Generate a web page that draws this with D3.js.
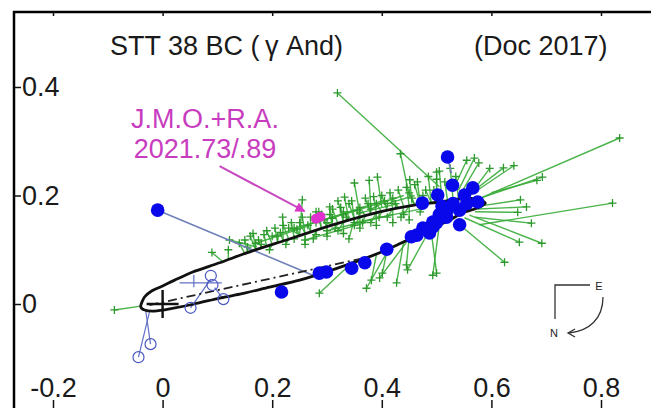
<!DOCTYPE html>
<html><head><meta charset="utf-8">
<script src="https://cdn.jsdelivr.net/npm/d3@7"></script>
<style>body{margin:0;background:#fff} svg{display:block} text{font-family:"Liberation Sans",Arial,sans-serif}</style>
</head><body><svg id="c" width="651" height="408"></svg>
<script>
const xTicks=[-0.2,0,0.2,0.4,0.6,0.8];
const xTickLabels=["-0.2","0","0.2","0.4","0.6","0.8"];
const yTicks=[0,0.2,0.4];
const yTickLabels=["0","0.2","0.4"];
const orbit=[[-0.040,-0.004],[-0.033,0.013],[-0.020,0.024],[-0.005,0.031],[0.022,0.044],[0.055,0.059],[0.104,0.076],[0.164,0.098],[0.226,0.118],[0.286,0.138],[0.341,0.155],[0.396,0.170],[0.451,0.181],[0.505,0.188],[0.546,0.194],[0.575,0.194],[0.589,0.186],[0.575,0.177],[0.547,0.168],[0.524,0.155],[0.493,0.140],[0.456,0.122],[0.409,0.100],[0.372,0.085],[0.310,0.063],[0.250,0.044],[0.195,0.031],[0.141,0.018],[0.104,0.011],[0.058,0.000],[0.013,-0.009],[-0.015,-0.013],[-0.033,-0.011]];
const nodeLine=[[-0.024,-0.002],[0.369,0.085]];
const primary=[0,0];
const greenRes=[
[0.319,0.389,0.505,0.216],[0.834,0.306,0.584,0.197],[0.821,0.186,0.578,0.146],[0.692,0.112,0.560,0.164],
[0.651,0.114,0.551,0.159],[0.624,0.077,0.542,0.146],[0.493,0.053,0.505,0.146],[0.447,0.063,0.487,0.136],
[0.396,0.048,0.451,0.122],[0.372,0.029,0.414,0.103],[0.286,0.020,0.341,0.072],[-0.088,-0.011,-0.040,-0.004],
[0.255,0.192,0.250,0.127],[0.641,0.255,0.560,0.200],[0.622,0.251,0.550,0.195],[0.653,0.192,0.575,0.180],
[0.664,0.179,0.575,0.175],[0.648,0.169,0.570,0.170],[0.673,0.149,0.570,0.160],[0.693,0.234,0.580,0.195],
[0.569,0.269,0.540,0.210],[0.434,0.277,0.450,0.200],[0.577,0.260,0.545,0.205],[0.377,0.228,0.380,0.175],
[0.332,0.197,0.340,0.155],[0.392,0.234,0.400,0.178],[0.350,0.223,0.360,0.165],[0.555,0.265,0.530,0.210],
[0.597,0.250,0.560,0.200],[0.500,0.243,0.500,0.190],[0.451,0.229,0.455,0.185],[0.305,0.179,0.310,0.146],
[0.445,0.072,0.450,0.124],[0.500,0.057,0.490,0.135],[0.401,0.057,0.410,0.100],[0.381,0.044,0.390,0.090],
[0.427,0.039,0.440,0.115],[0.683,0.228,0.600,0.205],[0.122,0.118,0.172,0.105],[0.090,0.095,0.110,0.078],
[0.219,0.160,0.220,0.116],[0.12,0.100,0.12,0.082],[0.14,0.112,0.15,0.093],[0.16,0.125,0.17,0.099],
[0.18,0.110,0.18,0.103],[0.19,0.135,0.20,0.110],[0.21,0.125,0.21,0.113],[0.22,0.145,0.23,0.120],
[0.24,0.120,0.24,0.124],[0.25,0.150,0.26,0.130],[0.27,0.160,0.27,0.133],[0.28,0.128,0.28,0.136],
[0.29,0.165,0.30,0.142],[0.30,0.150,0.31,0.145],[0.31,0.175,0.32,0.148],[0.32,0.135,0.33,0.151],
[0.33,0.170,0.34,0.154],[0.34,0.185,0.35,0.157],[0.35,0.145,0.36,0.160],[0.36,0.178,0.37,0.163],
[0.37,0.195,0.38,0.165],[0.38,0.150,0.39,0.168],[0.39,0.185,0.40,0.170],[0.40,0.200,0.41,0.172],
[0.41,0.160,0.42,0.175],[0.42,0.195,0.43,0.177],[0.43,0.210,0.44,0.179],[0.44,0.165,0.45,0.181],
[0.45,0.205,0.46,0.183],[0.46,0.220,0.47,0.184],[0.47,0.170,0.48,0.186],[0.48,0.210,0.49,0.187],
[0.50,0.230,0.50,0.188],[0.26,0.110,0.26,0.130],[0.30,0.125,0.30,0.142],[0.33,0.130,0.33,0.151],
[0.36,0.140,0.36,0.160],[0.39,0.145,0.39,0.168],[0.42,0.150,0.42,0.175],[0.45,0.155,0.45,0.181],
[0.34,0.120,0.35,0.157],[0.23,0.140,0.25,0.127],[0.28,0.170,0.29,0.140],[0.32,0.190,0.33,0.151],
[0.150,0.118,0.155,0.095],[0.155,0.105,0.16,0.097],[0.165,0.130,0.17,0.100],[0.175,0.118,0.18,0.103],
[0.185,0.128,0.19,0.106],[0.195,0.100,0.20,0.110],[0.205,0.140,0.21,0.113],[0.215,0.132,0.22,0.116],
[0.225,0.110,0.23,0.120],[0.235,0.150,0.24,0.123],[0.245,0.138,0.25,0.127],[0.255,0.160,0.26,0.130],
[0.265,0.145,0.27,0.133],[0.275,0.120,0.28,0.136],[0.285,0.170,0.29,0.139],[0.295,0.155,0.30,0.142],
[0.305,0.165,0.31,0.145],[0.315,0.140,0.32,0.148],[0.325,0.178,0.33,0.151],[0.335,0.160,0.34,0.154],
[0.345,0.190,0.35,0.157],[0.355,0.172,0.36,0.160],[0.365,0.150,0.37,0.163],[0.375,0.185,0.38,0.165],
[0.385,0.198,0.39,0.168],[0.395,0.160,0.40,0.170],[0.405,0.190,0.41,0.172],[0.415,0.205,0.42,0.175],
[0.425,0.185,0.43,0.177],[0.435,0.160,0.44,0.179],[0.445,0.215,0.45,0.181],[0.455,0.195,0.46,0.183],
[0.465,0.225,0.47,0.184],[0.475,0.200,0.48,0.186],[0.485,0.235,0.49,0.187],[0.495,0.210,0.50,0.188],
[0.505,0.245,0.51,0.189],[0.515,0.225,0.52,0.190],[0.525,0.250,0.53,0.192],[0.535,0.235,0.54,0.193],
[0.200,0.125,0.31,0.160],[0.240,0.140,0.36,0.175],[0.280,0.150,0.40,0.190],[0.330,0.165,0.44,0.200],
[0.260,0.118,0.37,0.150],[0.300,0.135,0.42,0.165],[0.350,0.150,0.47,0.175],[0.170,0.112,0.27,0.145],
[0.310,0.158,0.34,0.170],[0.380,0.175,0.41,0.190],[0.410,0.185,0.46,0.200],[0.360,0.168,0.43,0.185]
];
const blueFilled=[[0.520,0.271],[0.529,0.219],[0.502,0.201],[0.474,0.186],[0.566,0.214],[0.575,0.188],[0.551,0.201],[0.542,0.173],[0.518,0.160],[0.518,0.170],[0.493,0.142],[0.493,0.151],[0.487,0.131],[0.542,0.146],[0.464,0.127],[0.454,0.124],[0.409,0.101],[0.369,0.076],[0.345,0.066],[0.299,0.059],[0.286,0.057],[0.217,0.022],[-0.009,0.173],[0.530,0.185],[0.505,0.165],[0.475,0.140],[0.510,0.180],[0.555,0.185],[0.500,0.150]];
const blueFilledLines=[[-0.009,0.173,0.286,0.048],[0.520,0.271,0.527,0.241]];
const blueOpen=[[-0.044,-0.098],[-0.022,-0.074],[0.051,-0.007],[0.088,0.052],[0.111,0.009],[0.091,0.035]];
const blueOpenLines=[[-0.044,-0.098,-0.024,-0.015],[-0.022,-0.074,-0.031,-0.011],[0.051,-0.007,0.088,0.046],[0.031,0.039,0.108,0.039],[0.057,0.054,0.057,0.031],[0.111,0.009,0.095,0.030]];
const magentaObs=[[0.280,0.157],[0.288,0.161]];
const arrowLine=[[0.104,0.254],[0.259,0.171]];

const svg=d3.select("#c");
const x=d3.scaleLinear().domain([-0.2,0.8]).range([53,601]);
const y=d3.scaleLinear().domain([0,0.4]).range([304,87]);

const g=svg.append("g");
g.selectAll("line.gr").data(greenRes).join("line").attr("class","gr")
 .attr("x1",d=>x(d[0])).attr("y1",d=>y(d[1])).attr("x2",d=>x(d[2])).attr("y2",d=>y(d[3]))
 .attr("stroke","#38ac38").attr("stroke-width",1.4).attr("opacity",0.9);
g.selectAll("path.gp").data(greenRes).join("path").attr("class","gp")
 .attr("transform",d=>`translate(${x(d[0])},${y(d[1])})`).attr("d","M-4,0H4M0,-4V4")
 .attr("stroke","#2e9a2e").attr("stroke-width",1.3);
svg.selectAll("line.bo").data(blueOpenLines).join("line").attr("class","bo")
 .attr("x1",d=>x(d[0])).attr("y1",d=>y(d[1])).attr("x2",d=>x(d[2])).attr("y2",d=>y(d[3]))
 .attr("stroke","#6070c8").attr("stroke-width",1.2);
svg.selectAll("line.bf").data(blueFilledLines).join("line").attr("class","bf")
 .attr("x1",d=>x(d[0])).attr("y1",d=>y(d[1])).attr("x2",d=>x(d[2])).attr("y2",d=>y(d[3]))
 .attr("stroke","#7080b8").attr("stroke-width",1.6);
svg.append("path").datum(orbit).attr("d",d3.line().x(d=>x(d[0])).y(d=>y(d[1])).curve(d3.curveCardinalClosed.tension(0.3)))
 .attr("fill","none").attr("stroke","#111").attr("stroke-width",2.8);
svg.append("path").datum(nodeLine).attr("d",d3.line().x(d=>x(d[0])).y(d=>y(d[1])))
 .attr("stroke","#222").attr("stroke-width",1.8).attr("stroke-dasharray","9,4,2,4");
svg.append("path").attr("transform",`translate(${x(primary[0])},${y(primary[1])})`)
 .attr("d","M-16,0H16M0,-14V14").attr("stroke","#111").attr("stroke-width",2.4);
svg.selectAll("circle.op").data(blueOpen).join("circle").attr("class","op")
 .attr("cx",d=>x(d[0])).attr("cy",d=>y(d[1])).attr("r",5.5).attr("fill","none").attr("stroke","#4a58c0").attr("stroke-width",1.2);
svg.selectAll("circle.bfd").data(blueFilled).join("circle").attr("class","bfd")
 .attr("cx",d=>x(d[0])).attr("cy",d=>y(d[1])).attr("r",6.8).attr("fill","#0808ea");
svg.selectAll("circle.mg").data(magentaObs).join("circle")
 .attr("cx",d=>x(d[0])).attr("cy",d=>y(d[1])).attr("r",5).attr("fill","#e030d0");
const defs=svg.append("defs");
defs.append("marker").attr("id","ah").attr("viewBox","0 0 10 10").attr("refX",9).attr("refY",5)
 .attr("markerWidth",5).attr("markerHeight",5).attr("orient","auto")
 .append("path").attr("d","M0,0L10,5L0,10z").attr("fill","#d838c8");
svg.append("path").datum(arrowLine).attr("d",d3.line().x(d=>x(d[0])).y(d=>y(d[1])))
 .attr("stroke","#c848c0").attr("stroke-width",2).attr("marker-end","url(#ah)");

svg.append("line").attr("x1",14).attr("x2",14).attr("y1",11).attr("y2",408).attr("stroke","#000").attr("stroke-width",2.5);
svg.append("line").attr("x1",13).attr("x2",651).attr("y1",12).attr("y2",12).attr("stroke","#000").attr("stroke-width",2.5);
const fs="27px";
const ax=svg.append("g").attr("transform","translate(0,408)")
 .call(d3.axisTop(x).tickValues(xTicks).tickFormat((d,i)=>xTickLabels[i]).tickSize(8).tickPadding(3));
const ay=svg.append("g").attr("transform","translate(14,0)")
 .call(d3.axisRight(y).tickValues(yTicks).tickFormat((d,i)=>yTickLabels[i]).tickSize(7).tickPadding(1));
const at=svg.append("g").attr("transform","translate(0,12)")
 .call(d3.axisBottom(x).tickValues(xTicks).tickFormat("").tickSize(4));
[ax,ay,at].forEach(a=>{a.select(".domain").remove();a.selectAll("line").attr("stroke","#111").attr("stroke-width",1.5);
 a.selectAll("text").attr("font-size",fs).attr("fill","#1a1a1a").attr("font-family","Liberation Sans, Arial, sans-serif");});

svg.append("text").attr("x",110).attr("y",55).attr("font-size","27px").attr("fill","#1a1a1a")
 .text("STT 38 BC (\u2009\u03b3 And)");
svg.append("text").attr("x",474).attr("y",55).attr("font-size","27px").attr("fill","#1a1a1a").text("(Doc 2017)");
svg.append("text").attr("x",205).attr("y",128).attr("text-anchor","middle").attr("font-size","27px").attr("fill","#c83cc0").text("J.M.O.+R.A.");
svg.append("text").attr("x",205).attr("y",158).attr("text-anchor","middle").attr("font-size","27px").attr("fill","#c83cc0").text("2021.73/.89");

const cp=svg.append("g").attr("transform","translate(555,285)");
cp.append("path").attr("d","M35,0H0V34").attr("fill","none").attr("stroke","#333").attr("stroke-width",1.3);
cp.append("text").attr("x",44).attr("y",5).attr("text-anchor","middle").attr("font-size","11px").attr("fill","#222").text("E");
cp.append("text").attr("x",-1).attr("y",52).attr("text-anchor","middle").attr("font-size","11px").attr("fill","#222").text("N");
cp.append("path").attr("d","M48,12C48,34 34,46 14,48").attr("fill","none").attr("stroke","#333").attr("stroke-width",1.3);
cp.append("path").attr("d","M20,44L13,48L20,52").attr("fill","none").attr("stroke","#333").attr("stroke-width",1.3);
</script></body></html>
